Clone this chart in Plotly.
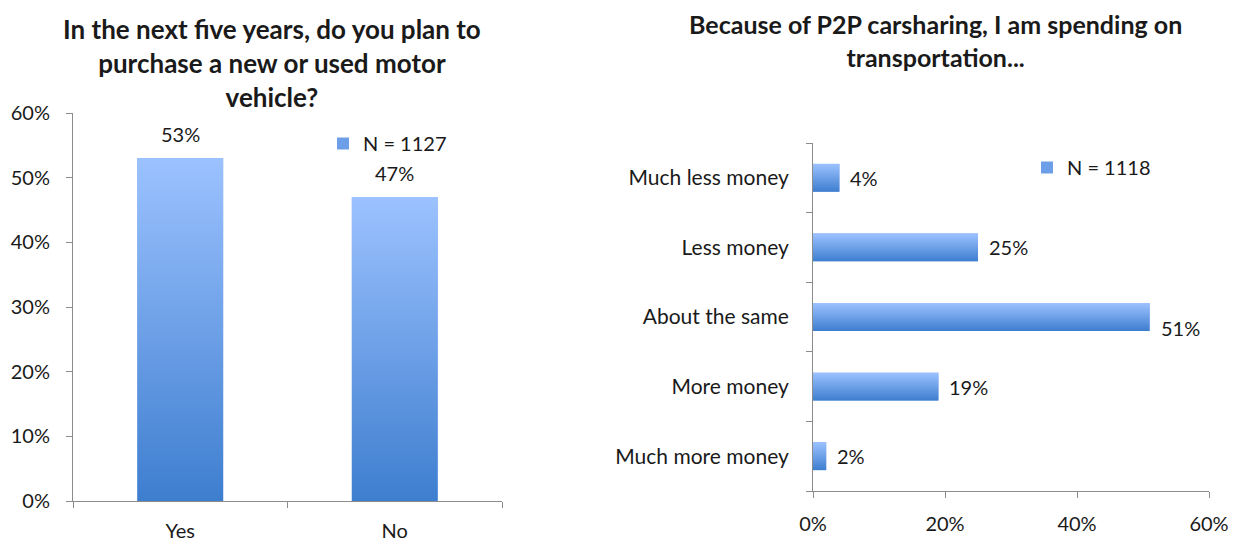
import plotly.graph_objects as go

# ---------------- data ----------------
q1_title = "In the next five years, do you plan to<br>purchase a new or used motor<br>vehicle?"
q1_categories = ["Yes", "No"]
q1_values = [53, 47]
q1_legend = "N = 1127"
q1_ticks = [0, 10, 20, 30, 40, 50, 60]

q2_title = "Because of P2P carsharing, I am spending on<br>transportation..."
q2_categories = ["Much less money", "Less money", "About the same", "More money", "Much more money"]
q2_values = [4, 25, 51, 19, 2]
q2_legend = "N = 1118"
q2_ticks = [0, 20, 40, 60]

# ---------------- style ----------------
FONT = "Lato"
LIGHT = "#9CC2FF"
DARK = "#3E7ECF"
MID = "#6C9FE8"
AXIS = "#8C8C8C"
TXT = "#1a1a1a"
BW = 0.4  # bar width as fraction of category
FS = 20

# page offset (html body margin) and figure size
OFF = 8
W, H = 1237 - OFF, 542 - OFF


def px(x):
    return (x - OFF) / W


def py(y):
    return (H - (y - OFF)) / H


fig = go.Figure()

# Left chart: vertical bars (solid bar for the legend swatch, gradient overlay on top)
fig.add_trace(go.Bar(
    x=list(range(len(q1_categories))), y=q1_values, width=BW,
    marker=dict(color=MID, line=dict(width=0)),
    name=q1_legend, legend="legend", xaxis="x", yaxis="y",
    hovertext=q1_categories, hoverinfo="text+y",
))
for i, (c, v) in enumerate(zip(q1_categories, q1_values)):
    fig.add_trace(go.Scatter(
        x=[i - BW / 2, i + BW / 2, i + BW / 2, i - BW / 2, i - BW / 2],
        y=[0, 0, v, v, 0],
        fill="toself", mode="lines", line=dict(width=0),
        fillgradient=dict(type="vertical", colorscale=[[0, DARK], [1, LIGHT]]),
        showlegend=False, hoverinfo="skip",
        xaxis="x", yaxis="y",
    ))
    fig.add_annotation(x=i, y=v, xref="x", yref="y", text=f"{v}%", showarrow=False,
                       yanchor="bottom", yshift=10, font=dict(family=FONT, size=FS, color=TXT))

# Right chart: horizontal bars
fig.add_trace(go.Bar(
    y=list(range(len(q2_categories))), x=q2_values, width=BW, orientation="h",
    marker=dict(color=MID, line=dict(width=0)),
    name=q2_legend, legend="legend2", xaxis="x2", yaxis="y2",
    hovertext=q2_categories, hoverinfo="text+x",
))
label_yshift = {"About the same": -11}
for i, (c, v) in enumerate(zip(q2_categories, q2_values)):
    fig.add_trace(go.Scatter(
        x=[0, v, v, 0, 0],
        y=[i - BW / 2, i - BW / 2, i + BW / 2, i + BW / 2, i - BW / 2],
        fill="toself", mode="lines", line=dict(width=0),
        fillgradient=dict(type="vertical", colorscale=[[0, DARK], [1, LIGHT]]),
        showlegend=False, hoverinfo="skip",
        xaxis="x2", yaxis="y2",
    ))
    fig.add_annotation(x=v, y=i, xref="x2", yref="y2", text=f"{v}%", showarrow=False,
                       xanchor="left", xshift=9, yshift=label_yshift.get(c, 0),
                       font=dict(family=FONT, size=FS, color=TXT))

tickfont = dict(family=FONT, size=FS, color=TXT)

fig.update_layout(
    width=W, height=H,
    margin=dict(l=0, r=0, t=0, b=0),
    paper_bgcolor="white", plot_bgcolor="white",
    font=dict(family=FONT, color=TXT),
    barmode="overlay",
    xaxis=dict(
        domain=[px(73), px(502)], range=[-0.5, 1.5], automargin=False,
        tickvals=list(range(len(q1_categories))), ticktext=q1_categories,
        ticks="", showgrid=False, zeroline=False,
        showline=True, linecolor=AXIS, linewidth=1,
        minor=dict(tickvals=[-0.5, 0.5, 1.5], ticks="outside", ticklen=6,
                   tickcolor=AXIS, showgrid=False),
        tickfont=tickfont, ticklabelstandoff=12,
        fixedrange=True,
    ),
    yaxis=dict(
        domain=[py(501), py(113)], range=[0, 60], automargin=False,
        tickvals=q1_ticks, ticktext=[f"{t}%" for t in q1_ticks],
        ticks="outside", ticklen=6, tickcolor=AXIS,
        showgrid=False, zeroline=False,
        showline=True, linecolor=AXIS, linewidth=1,
        tickfont=tickfont, ticklabelstandoff=12,
        fixedrange=True,
    ),
    xaxis2=dict(
        domain=[px(813), px(1209)], range=[0, 60], anchor="y2", automargin=False,
        tickvals=q2_ticks, ticktext=[f"{t}%" for t in q2_ticks],
        ticks="outside", ticklen=6, tickcolor=AXIS,
        showgrid=False, zeroline=False,
        showline=True, linecolor=AXIS, linewidth=1,
        tickfont=tickfont, ticklabelstandoff=9,
        fixedrange=True,
    ),
    yaxis2=dict(
        domain=[py(491), py(143)], range=[len(q2_categories) - 0.5, -0.5],
        anchor="x2", automargin=False,
        tickvals=list(range(len(q2_categories))), ticktext=q2_categories,
        ticks="", showgrid=False, zeroline=False,
        showline=True, linecolor=AXIS, linewidth=1,
        minor=dict(tickvals=[k - 0.5 for k in range(len(q2_categories) + 1)],
                   ticks="outside", ticklen=6, tickcolor=AXIS, showgrid=False),
        tickfont=dict(family=FONT, size=21, color=TXT), ticklabelstandoff=19,
        fixedrange=True,
    ),
    legend=dict(x=px(323), y=py(124), xanchor="left", yanchor="top",
                bgcolor="rgba(0,0,0,0)", font=dict(family=FONT, size=FS, color=TXT),
                itemwidth=30),
    legend2=dict(x=px(1027), y=py(148), xanchor="left", yanchor="top",
                 bgcolor="rgba(0,0,0,0)", font=dict(family=FONT, size=FS, color=TXT),
                 itemwidth=30),
    showlegend=True,
)

fig.add_annotation(x=px(272), y=py(11), xref="paper", yref="paper", text=f"<b>{q1_title}</b>",
                   showarrow=False, xanchor="center", yanchor="top", align="center",
                   font=dict(family=FONT, size=26, color=TXT))
fig.add_annotation(x=px(935), y=1, xref="paper", yref="paper", text=f"<b>{q2_title}</b>",
                   showarrow=False, xanchor="center", yanchor="top", align="center",
                   borderpad=0,
                   font=dict(family=FONT, size=25, color=TXT))

fig.write_html("out.html")
